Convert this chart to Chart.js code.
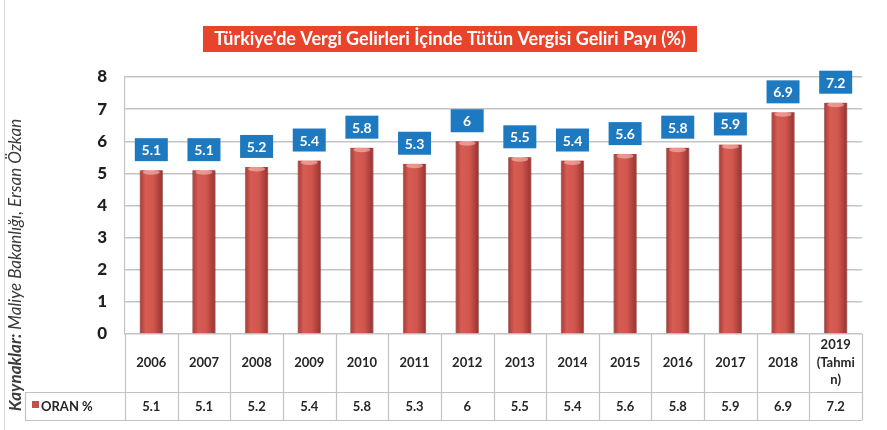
<!DOCTYPE html>
<html>
<head>
<meta charset="utf-8">
<script src="https://cdn.jsdelivr.net/npm/chart.js@4"></script>
<style>
  body { margin: 0; background: #fff; }
  canvas { display: block; }
</style>
</head>
<body>
<canvas id="myChartbar" width="887" height="430"></canvas>
<script>
// data
const yillar = ['2006', '2007', '2008', '2009', '2010', '2011', '2012', '2013', '2014', '2015', '2016', '2017', '2018', ['2019', '(Tahmi', 'n)']];
const oran = [5.1, 5.1, 5.2, 5.4, 5.8, 5.3, 6, 5.5, 5.4, 5.6, 5.8, 5.9, 6.9, 7.2];
const seriAdi = 'ORAN %';
const baslik = "Türkiye'de Vergi Gelirleri İçinde Tütün Vergisi Geliri Payı (%)";
const kaynakBold = 'Kaynaklar:';
const kaynakText = ' Maliye Bakanlığı, Ersan Özkan';

const FONT = 'Lato, "Open Sans", sans-serif';
const BAR_W = 23;

// cylinder-like shading for each bar
function barFill(context) {
  const chart = context.chart;
  const xs = chart.scales && chart.scales.x;
  if (!xs || context.dataIndex === undefined) return '#C9504A';
  const cx = xs.getPixelForValue(context.dataIndex);
  if (!isFinite(cx)) return '#C9504A';
  const g = chart.ctx.createLinearGradient(cx - BAR_W / 2, 0, cx + BAR_W / 2, 0);
  g.addColorStop(0, '#A63B36');
  g.addColorStop(0.25, '#D65C54');
  g.addColorStop(0.6, '#D1564E');
  g.addColorStop(1, '#963330');
  return g;
}

// light cap at the top of the bars
const barCap = {
  id: 'barCap',
  afterDatasetsDraw(chart) {
    const ctx = chart.ctx;
    ctx.save();
    chart.getDatasetMeta(0).data.forEach(bar => {
      ctx.fillStyle = 'rgba(255,200,195,0.55)';
      ctx.beginPath();
      ctx.ellipse(bar.x, bar.y + 2, bar.width / 2 - 3, 2.5, 0, 0, Math.PI * 2);
      ctx.fill();
    });
    ctx.restore();
  }
};

// blue value boxes above bars
const valueBoxes = {
  id: 'valueBoxes',
  afterDatasetsDraw(chart) {
    const ctx = chart.ctx;
    ctx.save();
    chart.getDatasetMeta(0).data.forEach((bar, i) => {
      const w = 33, h = 23;
      const bottom = bar.y - 9;
      ctx.fillStyle = '#1D7AC0';
      ctx.fillRect(bar.x - w / 2, bottom - h, w, h);
      ctx.fillStyle = '#fff';
      ctx.font = 'bold 14px ' + FONT;
      ctx.textAlign = 'center';
      ctx.textBaseline = 'middle';
      ctx.fillText(String(oran[i]), bar.x, bottom - h / 2 + 1);
    });
    ctx.restore();
  }
};

// title box, source note, data table
const extras = {
  id: 'extras',
  afterDraw(chart) {
    const ctx = chart.ctx;
    const xs = chart.scales.x;
    const area = chart.chartArea;
    ctx.save();

    // left frame line
    ctx.strokeStyle = '#D8D8D8';
    ctx.lineWidth = 1;
    ctx.beginPath();
    ctx.moveTo(4.5, 0); ctx.lineTo(4.5, 430);
    ctx.stroke();

    // title
    ctx.fillStyle = '#E8432B';
    ctx.fillRect(203, 26, 494, 26);
    ctx.fillStyle = '#fff';
    ctx.font = 'bold 18px ' + FONT;
    ctx.textAlign = 'center';
    ctx.textBaseline = 'middle';
    ctx.fillText(baslik, 450, 39.5);

    // source note, rotated
    ctx.save();
    ctx.translate(16, 265);
    ctx.rotate(-Math.PI / 2);
    ctx.textBaseline = 'middle';
    ctx.textAlign = 'left';
    ctx.fillStyle = '#3a3a3a';
    ctx.font = 'italic bold 17px ' + FONT;
    const w1 = ctx.measureText(kaynakBold).width;
    ctx.font = 'italic 17px ' + FONT;
    const w2 = ctx.measureText(kaynakText).width;
    const start = -(w1 + w2) / 2;
    ctx.font = 'italic bold 17px ' + FONT;
    ctx.fillText(kaynakBold, start, 0);
    ctx.font = 'italic 17px ' + FONT;
    ctx.fillText(kaynakText, start + w1, 0);
    ctx.restore();

    // table lines
    const top = area.bottom, mid = 392, bot = 420, leftCell = 25;
    const step = (xs.right - xs.left) / yillar.length;
    ctx.strokeStyle = '#C2C2C2';
    ctx.lineWidth = 1.2;
    ctx.beginPath();
    for (let i = 0; i <= yillar.length; i++) {
      const x = Math.round(xs.left + i * step) + 0.5;
      ctx.moveTo(x, top); ctx.lineTo(x, bot);
    }
    ctx.moveTo(leftCell + 0.5, mid); ctx.lineTo(leftCell + 0.5, bot);
    ctx.moveTo(leftCell, mid + 0.5); ctx.lineTo(xs.right, mid + 0.5);
    ctx.moveTo(leftCell, bot + 0.5); ctx.lineTo(xs.right, bot + 0.5);
    ctx.stroke();

    // data row
    ctx.fillStyle = '#262626';
    ctx.font = 'bold 13px ' + FONT;
    ctx.textAlign = 'center';
    ctx.textBaseline = 'middle';
    oran.forEach((v, i) => {
      ctx.fillText(String(v), xs.getPixelForValue(i), (mid + bot) / 2 + 1);
    });
    ctx.fillStyle = '#C0504D';
    ctx.fillRect(32, 401, 7, 7);
    ctx.fillStyle = '#262626';
    ctx.textAlign = 'left';
    ctx.fillText(seriAdi, 41, (mid + bot) / 2 + 1);

    ctx.restore();
  }
};

const ctx = document.getElementById('myChartbar').getContext('2d');
const myBarChart = new Chart(ctx, {
  type: 'bar',
  data: {
    labels: yillar,
    datasets: [{
      label: seriAdi,
      data: oran,
      backgroundColor: barFill,
      borderColor: 'rgba(120,35,32,0.6)',
      borderWidth: { left: 1, right: 1, top: 0, bottom: 0 },
      barThickness: BAR_W
    }]
  },
  options: {
    responsive: false,
    animation: false,
    layout: { padding: { top: 77, right: 25, bottom: 10, left: 0 } },
    plugins: {
      legend: { display: false },
      title: { display: false },
      tooltip: { enabled: false }
    },
    scales: {
      y: {
        min: 0,
        max: 8,
        afterFit(scale) { scale.width = 125; },
        ticks: {
          stepSize: 1,
          padding: 18,
          color: '#1f1f1f',
          font: { family: FONT, size: 17, weight: 900 }
        },
        grid: { color: '#C4C4C4', lineWidth: 1.5, drawTicks: false },
        border: { display: true, color: '#C2C2C2', width: 1.2 }
      },
      x: {
        afterFit(scale) { scale.height = 86; },
        grid: { display: false },
        border: { display: false },
        ticks: {
          autoSkip: false,
          maxRotation: 0,
          crossAlign: 'center',
          padding: 3,
          color: '#262626',
          font: { family: FONT, size: 13, weight: 'bold', lineHeight: 1.35 }
        }
      }
    }
  },
  plugins: [barCap, valueBoxes, extras]
});
</script>
</body>
</html>
